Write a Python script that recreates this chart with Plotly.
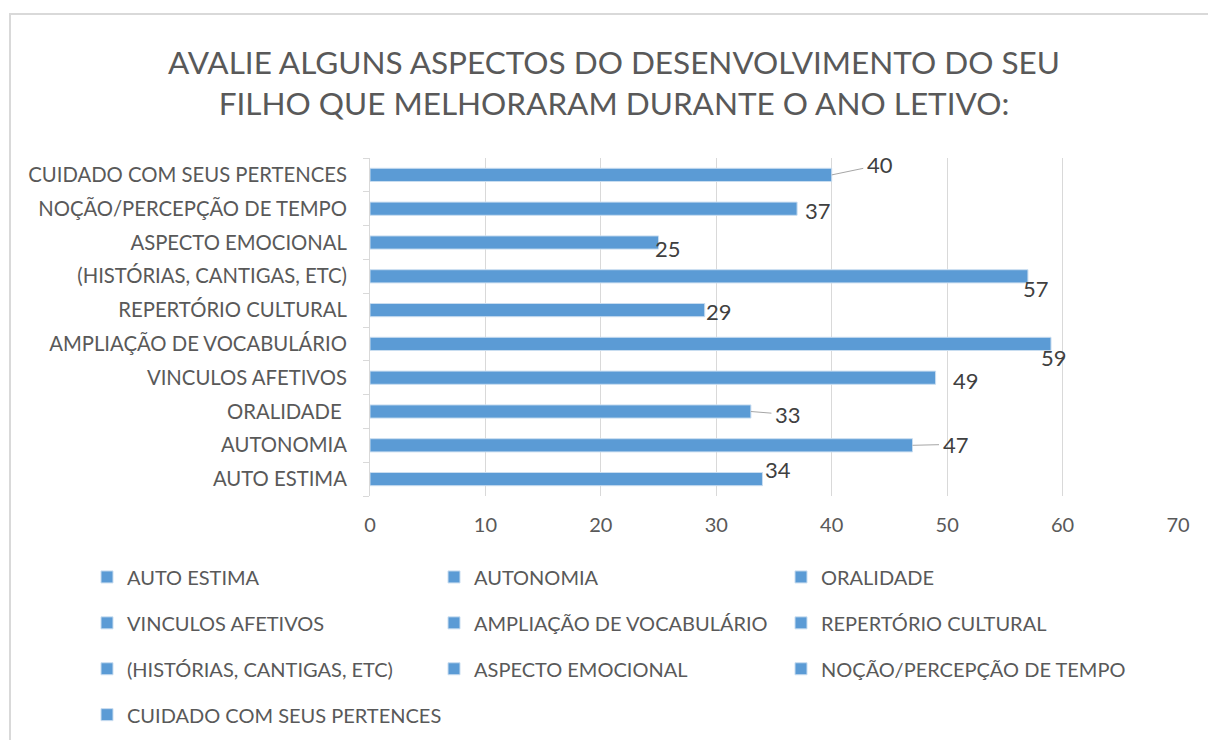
import plotly.graph_objects as go

categories = [
    "AUTO ESTIMA",
    "AUTONOMIA",
    "ORALIDADE ",
    "VINCULOS AFETIVOS",
    "AMPLIAÇÃO DE VOCABULÁRIO",
    "REPERTÓRIO CULTURAL",
    "(HISTÓRIAS, CANTIGAS, ETC)",
    "ASPECTO EMOCIONAL",
    "NOÇÃO/PERCEPÇÃO DE TEMPO",
    "CUIDADO COM SEUS PERTENCES",
]
values = [34, 47, 33, 49, 59, 29, 57, 25, 37, 40]
x_ticks = [0, 10, 20, 30, 40, 50, 60, 70]

title_text = ("AVALIE ALGUNS ASPECTOS DO DESENVOLVIMENTO DO SEU<br>"
              "FILHO QUE MELHORARAM DURANTE O ANO LETIVO:")

# label placement (pixel offsets from bar end), and whether a leader line is drawn
label_offsets = [(16, -10, False), (43, -1, True), (37, 3, True), (30, 3, False),
                 (3, 14, False), (14, 1, False), (8, 12, False), (9, 6, False),
                 (21, 2, False), (48, -10, True)]

FONT = "Lato"
BAR = "#5B9BD5"
TXT = "#595959"
FIG_H = 770  # page is shown in a 740px window; extra room only holds legend padding


def legend_label(s):
    return ('<span style="font-size:20px;baseline-shift:5px">' + s + '</span>')


fig = go.Figure()
for i, (cat, v) in enumerate(zip(categories, values)):
    fig.add_trace(go.Bar(
        x=[v], y=[i], orientation="h", name=legend_label(cat.strip()),
        marker=dict(color=BAR, line=dict(color="#C9DDF0", width=1)),
        width=0.39, showlegend=True,
    ))

for i, v in enumerate(values):
    dx, dy, leader = label_offsets[i]
    if leader:
        fig.add_annotation(x=v, y=i, text=str(v), showarrow=True, ax=dx, ay=dy,
                           arrowhead=0, arrowwidth=1, arrowcolor="#A6A6A6",
                           standoff=0, startstandoff=2,
                           font=dict(family=FONT, size=22, color="#404040"))
    else:
        fig.add_annotation(x=v, y=i, text=str(v), showarrow=False,
                           xshift=dx, yshift=-dy,
                           font=dict(family=FONT, size=22, color="#404040"))

# chart frame
fig.add_shape(type="rect", xref="paper", yref="paper",
              x0=(10 - 370) / 808, x1=(1220 - 370) / 808,
              y0=(496 - 768) / 338, y1=(496 - 14) / 338,
              line=dict(color="#D9D9D9", width=2), layer="below")

fig.update_layout(
    width=1208, height=FIG_H,
    margin=dict(l=370, r=30, t=158, b=FIG_H - 496),
    paper_bgcolor="white", plot_bgcolor="white",
    barmode="overlay",
    title=dict(text=title_text, x=614 / 1208, xref="container", xanchor="center",
               y=1 - 74 / FIG_H, yanchor="middle",
               font=dict(family=FONT, size=31.5, color=TXT)),
    font=dict(family=FONT, color=TXT),
    xaxis=dict(range=[0, 70], tickvals=x_ticks, showgrid=True, gridcolor="#D9D9D9",
               gridwidth=1, zeroline=False, showline=False, ticks="",
               tickfont=dict(family=FONT, size=20, color=TXT), ticklabelstandoff=15),
    yaxis=dict(range=[-0.5, 9.5], tickvals=list(range(len(categories))),
               ticktext=categories, showgrid=False, zeroline=False,
               showline=True, linecolor="#D9D9D9", linewidth=1, ticks="",
               minor=dict(ticks="outside", tick0=0.5, dtick=1, ticklen=6,
                          tickcolor="#D9D9D9", showgrid=False),
               tickfont=dict(family=FONT, size=20.3, color=TXT), ticklabelstandoff=18),
    legend=dict(orientation="h", x=(87 - 370) / 808, xanchor="left",
                y=(496 - 549) / 338, yanchor="top",
                entrywidth=302, entrywidthmode="pixels",
                traceorder="normal",
                font=dict(family=FONT, size=33, color=TXT)),
)

fig.write_html("out.html", config={"displayModeBar": False},
               post_script="document.body.style.margin='0';"
                           "document.body.style.overflow='hidden';"
                           "document.documentElement.style.overflow='hidden';")
